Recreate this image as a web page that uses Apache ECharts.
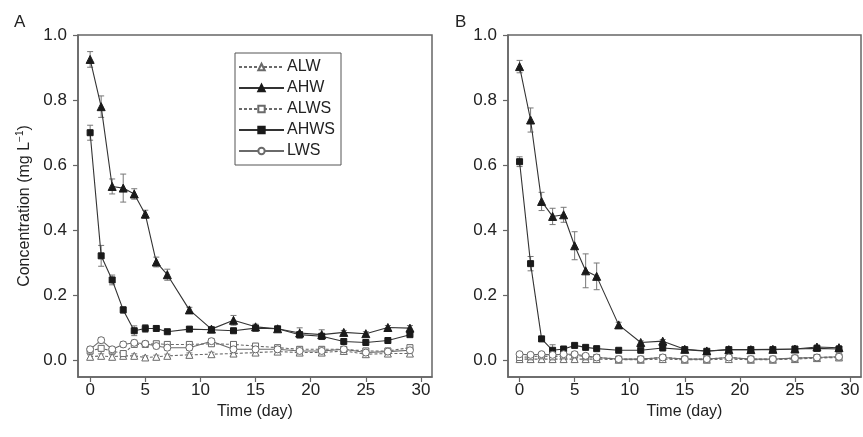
<!DOCTYPE html>
<html>
<head>
<meta charset="utf-8">
<script src="https://cdn.jsdelivr.net/npm/echarts@6/dist/echarts.min.js"></script>
<style>html,body{margin:0;padding:0;background:#fff;}#c{width:863px;height:437px;}</style>
</head>
<body>
<div id="c"></div>
<script>
const times = [0,1,2,3,4,5,6,7,9,11,13,15,17,19,21,23,25,27,29];
const xTicks = [0,5,10,15,20,25,30];
const yTicks = [0,0.2,0.4,0.6,0.8,1.0];

// Panel A
const A_ALW  = [0.012,0.015,0.012,0.015,0.015,0.010,0.012,0.015,0.018,0.020,0.022,0.025,0.028,0.025,0.025,0.030,0.020,0.022,0.022];
const A_AHW  = [0.925,0.780,0.535,0.530,0.512,0.450,0.303,0.264,0.156,0.097,0.124,0.104,0.098,0.085,0.080,0.087,0.083,0.102,0.100];
const A_ALWS = [0.030,0.038,0.030,0.022,0.050,0.050,0.052,0.050,0.050,0.052,0.050,0.045,0.040,0.035,0.035,0.035,0.030,0.030,0.040];
const A_AHWS = [0.700,0.322,0.248,0.156,0.092,0.099,0.099,0.089,0.097,0.095,0.092,0.100,0.098,0.080,0.075,0.059,0.056,0.062,0.080];
const A_LWS  = [0.035,0.063,0.035,0.050,0.055,0.052,0.045,0.040,0.040,0.060,0.035,0.035,0.035,0.030,0.030,0.035,0.025,0.028,0.032];
const A_ALW_err  = [0.006,0.006,0.006,0.006,0.006,0.005,0.005,0.005,0.006,0.006,0.006,0.006,0.006,0.006,0.006,0.006,0.006,0.006,0.006];
const A_AHW_err  = [0.024,0.033,0.023,0.043,0.016,0.012,0.015,0.017,0.008,0.006,0.015,0.008,0.006,0.016,0.015,0.006,0.006,0.006,0.008];
const A_ALWS_err = [0.008,0.008,0.008,0.008,0.008,0.008,0.008,0.008,0.008,0.008,0.008,0.008,0.008,0.008,0.008,0.008,0.008,0.008,0.008];
const A_AHWS_err = [0.023,0.032,0.015,0.010,0.015,0.012,0.008,0.006,0.006,0.006,0.006,0.008,0.006,0.008,0.006,0.005,0.005,0.005,0.006];
const A_LWS_err  = [0.008,0.008,0.008,0.008,0.008,0.008,0.008,0.008,0.008,0.008,0.008,0.008,0.008,0.008,0.008,0.008,0.008,0.008,0.008];

// Panel B
const B_ALW  = [0.005,0.005,0.005,0.005,0.005,0.005,0.005,0.005,0.003,0.003,0.005,0.003,0.003,0.005,0.003,0.003,0.005,0.008,0.010];
const B_AHW  = [0.903,0.739,0.489,0.443,0.448,0.353,0.276,0.259,0.110,0.056,0.060,0.035,0.030,0.034,0.034,0.035,0.036,0.042,0.040];
const B_ALWS = [0.010,0.012,0.015,0.012,0.015,0.018,0.012,0.010,0.005,0.005,0.010,0.005,0.005,0.010,0.005,0.005,0.008,0.010,0.012];
const B_AHWS = [0.611,0.298,0.067,0.032,0.036,0.047,0.041,0.037,0.032,0.032,0.039,0.034,0.029,0.034,0.034,0.034,0.036,0.038,0.036];
const B_LWS  = [0.020,0.018,0.020,0.018,0.020,0.020,0.015,0.010,0.005,0.005,0.010,0.005,0.005,0.010,0.005,0.005,0.008,0.010,0.012];
const B_ALW_err  = [0.004,0.004,0.004,0.004,0.004,0.004,0.004,0.004,0.004,0.004,0.004,0.004,0.004,0.004,0.004,0.004,0.004,0.004,0.004];
const B_AHW_err  = [0.019,0.037,0.028,0.025,0.023,0.043,0.052,0.041,0.008,0.005,0.005,0.004,0.004,0.004,0.004,0.004,0.004,0.006,0.005];
const B_ALWS_err = [0.005,0.005,0.005,0.005,0.005,0.005,0.005,0.005,0.005,0.005,0.005,0.005,0.005,0.005,0.005,0.005,0.005,0.005,0.005];
const B_AHWS_err = [0.015,0.022,0.008,0.017,0.006,0.006,0.005,0.005,0.004,0.004,0.004,0.004,0.004,0.004,0.004,0.004,0.004,0.005,0.005];
const B_LWS_err  = [0.005,0.005,0.005,0.005,0.005,0.005,0.005,0.005,0.005,0.005,0.005,0.005,0.005,0.005,0.005,0.005,0.005,0.005,0.005];

const FONT = 'Liberation Sans, Arial, sans-serif';
const DARK = '#1a1a1a';
const GRAY = '#6a6a6a';
const AX = '#666';

const styles = {
  ALW:  {symbol:'triangle', fill:'#fff', stroke:GRAY, line:GRAY, type:[3,2], size:7},
  AHW:  {symbol:'triangle', fill:DARK,   stroke:DARK, line:'#333', type:'solid', size:8},
  ALWS: {symbol:'rect',     fill:'#fff', stroke:GRAY, line:GRAY, type:[3,2], size:6},
  AHWS: {symbol:'rect',     fill:DARK,   stroke:DARK, line:'#333', type:'solid', size:6},
  LWS:  {symbol:'circle',   fill:'#fff', stroke:GRAY, line:GRAY, type:'solid', size:7}
};

function lineSeries(name, vals, idx) {
  const s = styles[name];
  return {
    name: name, type: 'line', xAxisIndex: idx, yAxisIndex: idx,
    data: times.map((t,i)=>[t, vals[i]]),
    symbol: s.symbol, symbolSize: s.size, showSymbol: true,
    lineStyle: {color: s.line, width: 1.1, type: s.type},
    itemStyle: {color: s.fill, borderColor: s.stroke, borderWidth: 1},
    emphasis: {disabled: true}, animation: false, z: 3
  };
}
function errSeries(vals, errs, idx) {
  return {
    type: 'custom', xAxisIndex: idx, yAxisIndex: idx, silent: true, animation: false, z: 2,
    data: times.map((t,i)=>[t, vals[i], errs[i]]),
    renderItem: function(params, api) {
      const x = api.value(0), y = api.value(1), e = api.value(2);
      const hi = api.coord([x, y+e]), lo = api.coord([x, y-e]);
      const w = 3;
      const st = {stroke: '#777', lineWidth: 1};
      return {type:'group', children:[
        {type:'line', shape:{x1:hi[0],y1:hi[1],x2:lo[0],y2:lo[1]}, style:st},
        {type:'line', shape:{x1:hi[0]-w,y1:hi[1],x2:hi[0]+w,y2:hi[1]}, style:st},
        {type:'line', shape:{x1:lo[0]-w,y1:lo[1],x2:lo[0]+w,y2:lo[1]}, style:st}
      ]};
    }
  };
}

function xAxis(idx, min, max) {
  return {
    type:'value', gridIndex: idx, min: min, max: max,
    name: 'Time (day)', nameLocation: 'middle', nameGap: 27,
    nameTextStyle: {fontFamily: FONT, fontSize: 16, color: '#222'},
    axisLine: {show: true, onZero: false, lineStyle: {color: AX, width: 1.5}},
    axisTick: {show: true, inside: false, length: 5, lineStyle: {color: AX, width: 1.2}, customValues: xTicks},
    axisLabel: {fontFamily: FONT, fontSize: 17, color: '#222', margin: 5, customValues: xTicks},
    splitLine: {show: false}
  };
}
function yAxis(idx) {
  return {
    type:'value', gridIndex: idx, min: -0.05, max: 1.0,
    name: idx === 0 ? 'Concentration (mg L{sup|\u22121})' : '',
    nameLocation: 'middle', nameGap: 44, nameRotate: 90,
    nameTextStyle: {fontFamily: FONT, fontSize: 16, color: '#222', lineHeight: 19,
      rich: {sup: {fontFamily: FONT, fontSize: 10, color: '#222', verticalAlign: 'top', lineHeight: 19}}},
    axisLine: {show: true, onZero: false, lineStyle: {color: AX, width: 1.5}},
    axisTick: {show: true, inside: false, length: 5, lineStyle: {color: AX, width: 1.2}, customValues: yTicks},
    axisLabel: {fontFamily: FONT, fontSize: 17, color: '#222', margin: 11, customValues: yTicks,
      formatter: v => v.toFixed(1)},
    splitLine: {show: false}
  };
}

const names = ['ALW','AHW','ALWS','AHWS','LWS'];
const A = {ALW:A_ALW, AHW:A_AHW, ALWS:A_ALWS, AHWS:A_AHWS, LWS:A_LWS};
const Ae = {ALW:A_ALW_err, AHW:A_AHW_err, ALWS:A_ALWS_err, AHWS:A_AHWS_err, LWS:A_LWS_err};
const B = {ALW:B_ALW, AHW:B_AHW, ALWS:B_ALWS, AHWS:B_AHWS, LWS:B_LWS};
const Be = {ALW:B_ALW_err, AHW:B_AHW_err, ALWS:B_ALWS_err, AHWS:B_AHWS_err, LWS:B_LWS_err};

const series = [];
const drawOrder = ['ALW','ALWS','LWS','AHWS','AHW'];
drawOrder.forEach(n => { series.push(errSeries(A[n], Ae[n], 0)); });
drawOrder.forEach(n => { series.push(errSeries(B[n], Be[n], 1)); });
names.forEach(n => { series.push(lineSeries(n, A[n], 0)); });
names.forEach(n => { series.push(lineSeries(n, B[n], 1)); });

const chart = echarts.init(document.getElementById('c'), null, {renderer: 'canvas'});
chart.setOption({
  backgroundColor: '#fff',
  animation: false,
  title: [
    {text: 'A', left: 9, top: 9, textStyle: {fontFamily: FONT, fontSize: 17, fontWeight: 'normal', color: '#222'}},
    {text: 'B', left: 450, top: 9, textStyle: {fontFamily: FONT, fontSize: 17, fontWeight: 'normal', color: '#222'}}
  ],
  grid: [
    {left: 78, top: 35, width: 354, height: 342, show: true, borderColor: AX, borderWidth: 1.5, backgroundColor: 'transparent'},
    {left: 508, top: 35, width: 353, height: 342, show: true, borderColor: AX, borderWidth: 1.5, backgroundColor: 'transparent'}
  ],
  xAxis: [xAxis(0, -1.1, 31), xAxis(1, -1.05, 31)],
  yAxis: [yAxis(0), yAxis(1)],
  legend: {
    data: names, orient: 'vertical', left: 235, top: 53,
    itemWidth: 45, itemHeight: 8, itemGap: 5,
    padding: [6, 6, 6, 3],
    borderColor: '#555', borderWidth: 1, backgroundColor: '#fff',
    textStyle: {fontFamily: FONT, fontSize: 16, color: '#222', padding: [0,0,0,-2]},
    selectedMode: false
  },
  series: series
});
</script>
</body>
</html>
